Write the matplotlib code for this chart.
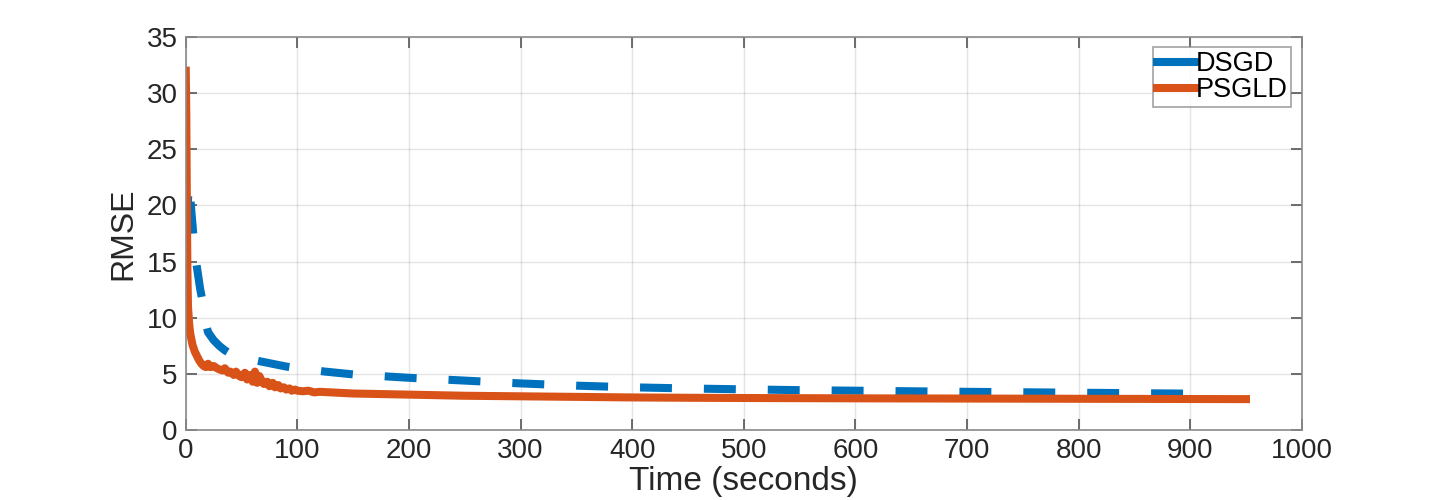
import matplotlib
matplotlib.use('Agg')
import matplotlib.pyplot as plt

# RMSE over wall-clock time for the two samplers
dsgd_time = [0, 1, 3, 5, 8, 10, 13, 15, 18, 20, 25, 30, 35, 40, 50, 60, 70, 80, 90, 100,
             125, 150, 175, 200, 250, 300, 350, 400, 450, 500, 550, 600, 650, 700, 750,
             800, 850, 900]
dsgd_rmse = [18, 19, 22, 19.5, 16, 14.5, 12.5, 11.5, 9.5, 8.7, 8.0, 7.5, 7.1, 6.8, 6.5,
             6.25, 6.05, 5.85, 5.65, 5.5, 5.2, 4.95, 4.8, 4.65, 4.4, 4.15, 3.95, 3.8,
             3.7, 3.62, 3.55, 3.5, 3.45, 3.4, 3.36, 3.32, 3.28, 3.24]

psgld_time = [0, 0.5, 1, 1.5, 2, 3, 4, 5, 6, 8, 10, 12, 14, 16, 18, 20, 22, 25, 28, 30,
              33, 35, 38, 40, 43, 45, 48, 50, 53, 55, 58, 60, 62, 64, 66, 68, 70, 73, 75,
              78, 80, 83, 85, 88, 90, 93, 95, 98, 100, 105, 110, 115, 120, 130, 140, 150,
              175, 200, 250, 300, 350, 400, 450, 500, 600, 700, 800, 900, 950]
psgld_rmse = [32, 28, 20, 14, 11, 9.5, 8.6, 8.1, 7.6, 7.0, 6.6, 6.2, 5.9, 5.7, 5.6, 5.9,
              5.6, 5.7, 5.5, 5.4, 5.3, 5.5, 5.1, 5.2, 4.9, 5.2, 4.8, 4.7, 5.1, 4.5, 4.9,
              4.3, 5.2, 4.2, 4.8, 4.4, 4.1, 4.3, 3.9, 4.2, 3.8, 4.0, 3.7, 3.8, 3.6, 3.7,
              3.5, 3.6, 3.5, 3.45, 3.5, 3.35, 3.4, 3.35, 3.3, 3.25, 3.2, 3.15, 3.05, 3.0,
              2.95, 2.9, 2.87, 2.85, 2.82, 2.8, 2.78, 2.76, 2.75]

x_ticks = [0, 100, 200, 300, 400, 500, 600, 700, 800, 900, 1000]
y_ticks = [0, 5, 10, 15, 20, 25, 30, 35]

plt.rcParams['font.family'] = ['Liberation Sans', 'DejaVu Sans']
plt.rcParams['lines.scale_dashes'] = False

fig = plt.figure(figsize=(14.4, 5), dpi=100)
ax = fig.add_axes([0.129, 0.14, 0.775, 0.786])

ax.plot(dsgd_time, dsgd_rmse, color='#0072BD', lw=5.8, dashes=(23, 23),
        dash_capstyle='butt', label='DSGD')
ax.plot(psgld_time, psgld_rmse, color='#D95319', lw=5.8, label='PSGLD')

ax.set_xlim(0, 1000)
ax.set_ylim(0, 35)
ax.set_xticks(x_ticks)
ax.set_yticks(y_ticks)
ax.grid(True, color='#262626', alpha=0.12, lw=1)
ax.set_axisbelow(True)

for s in ax.spines.values():
    s.set_color('#8a8a8a')
    s.set_linewidth(1.2)
ax.tick_params(direction='in', length=8, width=1.2, color='#555555',
               top=True, right=True, labelsize=20, labelcolor='#262626', pad=6)

ax.set_xlabel('Time (seconds)', fontsize=24, color='#262626', labelpad=1)
ax.set_ylabel('RMSE', fontsize=23, color='#262626', labelpad=6)

leg = ax.legend(loc='upper right', fontsize=19.5, frameon=True, fancybox=False,
                borderpad=0.14, handlelength=1.45, handletextpad=0.0,
                labelspacing=0.0, borderaxespad=0.38)
leg.get_frame().set_edgecolor('#8a8a8a')
leg.get_frame().set_linewidth(1.2)
for h in leg.get_lines():
    h.set_linestyle('-')
    h.set_linewidth(5.8)

fig.savefig('out.png', dpi=100)
